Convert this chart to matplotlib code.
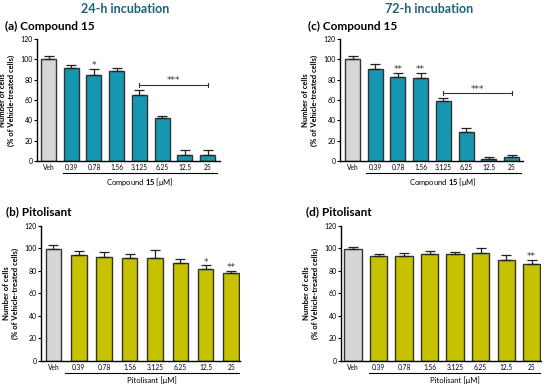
import matplotlib
matplotlib.use("Agg")
import matplotlib.pyplot as plt
import matplotlib.transforms as mtransforms
import numpy as np

plt.rcParams["font.family"] = ["Lato", "DejaVu Sans"]
plt.rcParams["mathtext.fontset"] = "custom"
plt.rcParams["mathtext.rm"] = "Lato"
plt.rcParams["mathtext.bf"] = "Lato:bold"

doses = ["Veh", "0.39", "0.78", "1.56", "3.125", "6.25", "12.5", "25"]

# 24-h compound 15
a_mean = [100.3, 91.8, 84.9, 88.2, 64.5, 42.4, 6.2, 6.2]
a_err = [2.7, 2.6, 5.6, 2.9, 4.9, 2.3, 4.7, 4.7]
# 72-h compound 15
c_mean = [100.0, 90.8, 82.6, 81.3, 58.9, 28.3, 2.3, 3.6]
c_err = [3.0, 4.6, 3.9, 5.2, 2.9, 3.9, 1.3, 2.0]
# 24-h pitolisant
b_mean = [99.6, 93.7, 92.2, 91.0, 91.6, 86.6, 81.3, 78.0]
b_err = [3.0, 3.8, 4.8, 4.2, 6.8, 3.6, 3.5, 2.1]
# 72-h pitolisant
d_mean = [99.6, 93.1, 93.1, 94.9, 94.6, 95.8, 89.6, 86.3]
d_err = [1.2, 1.8, 2.4, 2.9, 1.8, 4.1, 4.1, 3.6]

TEAL = "#1597b1"
OLIVE = "#c6c200"
GREY = "#d6d6d6"
TITLE_C = "#1d6479"

fig = plt.figure(figsize=(5.5, 3.91), dpi=100)


def panel(rect, mean, err, color, width, xlim, line_x, line_y, xlabel, label, stars, bracket=None):
    ax = fig.add_axes(rect)
    x = np.arange(len(doses))
    colors = [GREY] + [color] * (len(doses) - 1)
    ax.bar(x, mean, width=width, color=colors, edgecolor="#333333", linewidth=1.0, zorder=2)
    ax.errorbar(x, mean, yerr=[np.zeros(len(mean)), err], fmt="none", ecolor="#222222",
                elinewidth=0.9, capsize=3.5, capthick=0.9, zorder=3)
    ax.set_ylim(0, 120)
    ax.set_xlim(*xlim)
    ax.set_yticks(range(0, 121, 20))
    ax.set_xticks(x)
    ax.set_xticklabels(doses)
    ax.tick_params(axis="x", length=0, pad=2, labelsize=4.8)
    ax.tick_params(axis="y", length=2, width=0.8, pad=1, labelsize=5)
    for s in ["top", "right"]:
        ax.spines[s].set_visible(False)
    ax.spines["left"].set_linewidth(1.0)
    ax.spines["bottom"].set_linewidth(1.0)
    ax.set_ylabel("Number of cells\n(% of Vehicle-treated cells)", fontsize=5.5,
                  fontweight="bold", labelpad=4, linespacing=1.2)
    trans = mtransforms.blended_transform_factory(ax.transData, ax.transAxes)
    ax.plot(line_x, [line_y, line_y], color="black", lw=0.8, transform=trans, clip_on=False)
    ax.text(np.mean(line_x), line_y - 0.025, xlabel, transform=trans, ha="center", va="top",
            fontsize=5.5)
    ax.text(-0.175, 1.06, label, transform=ax.transAxes, fontsize=8.5, fontweight="bold",
            ha="left", va="bottom")
    for i, s in stars:
        ax.text(i, mean[i] + err[i] - 1.0, s, ha="center", va="bottom", fontsize=6.5,
                color="#333333", family="DejaVu Sans")
    if bracket is not None:
        i0, i1, yb, s = bracket
        ax.plot([i0, i1], [yb, yb], color="#333333", lw=0.8)
        ax.plot([i0, i0], [yb - 2, yb + 2], color="#333333", lw=0.8)
        ax.plot([i1, i1], [yb - 2, yb + 2], color="#333333", lw=0.8)
        ax.text((i0 + i1) / 2, yb - 0.5, s, ha="center", va="bottom", fontsize=6.5,
                color="#333333", family="DejaVu Sans")
    return ax


panel([37 / 550, 1 - 161 / 391, 183 / 550, 122 / 391], a_mean, a_err, TEAL, 0.66,
      (-0.51, 7.55), [0.64, 7.4], -0.098, r"Compound $\mathbf{15}$ [μM]", "(a) Compound 15",
      [(2, "*")], (4, 7, 75, "***"))
panel([340 / 550, 1 - 161 / 391, 183 / 550, 122 / 391], c_mean, c_err, TEAL, 0.66,
      (-0.55, 7.5), [0.58, 7.4], -0.098, r"Compound $\mathbf{15}$ [μM]", "(c) Compound 15",
      [(2, "**"), (3, "**")], (4, 7, 66.8, "***"))
panel([41 / 550, 1 - 361 / 391, 199 / 550, 135.3 / 391], b_mean, b_err, OLIVE, 0.61,
      (-0.49, 7.35), [0.45, 7.3], -0.091, "Pitolisant [μM]", "(b) Pitolisant",
      [(6, "*"), (7, "**")])
panel([341 / 550, 1 - 361 / 391, 200 / 550, 135.3 / 391], d_mean, d_err, OLIVE, 0.67,
      (-0.47, 7.37), [0.63, 7.35], -0.091, "Pitolisant [μM]", "(d) Pitolisant",
      [(7, "**")])

fig.text(125 / 550, 1 - 9 / 391, "24-h incubation", ha="center", va="center", fontsize=9,
         fontweight="bold", color=TITLE_C)
fig.text(154 / 550 + 275 / 550, 1 - 9 / 391, "72-h incubation", ha="center", va="center",
         fontsize=9, fontweight="bold", color=TITLE_C)

fig.savefig("out.png", dpi=100)
